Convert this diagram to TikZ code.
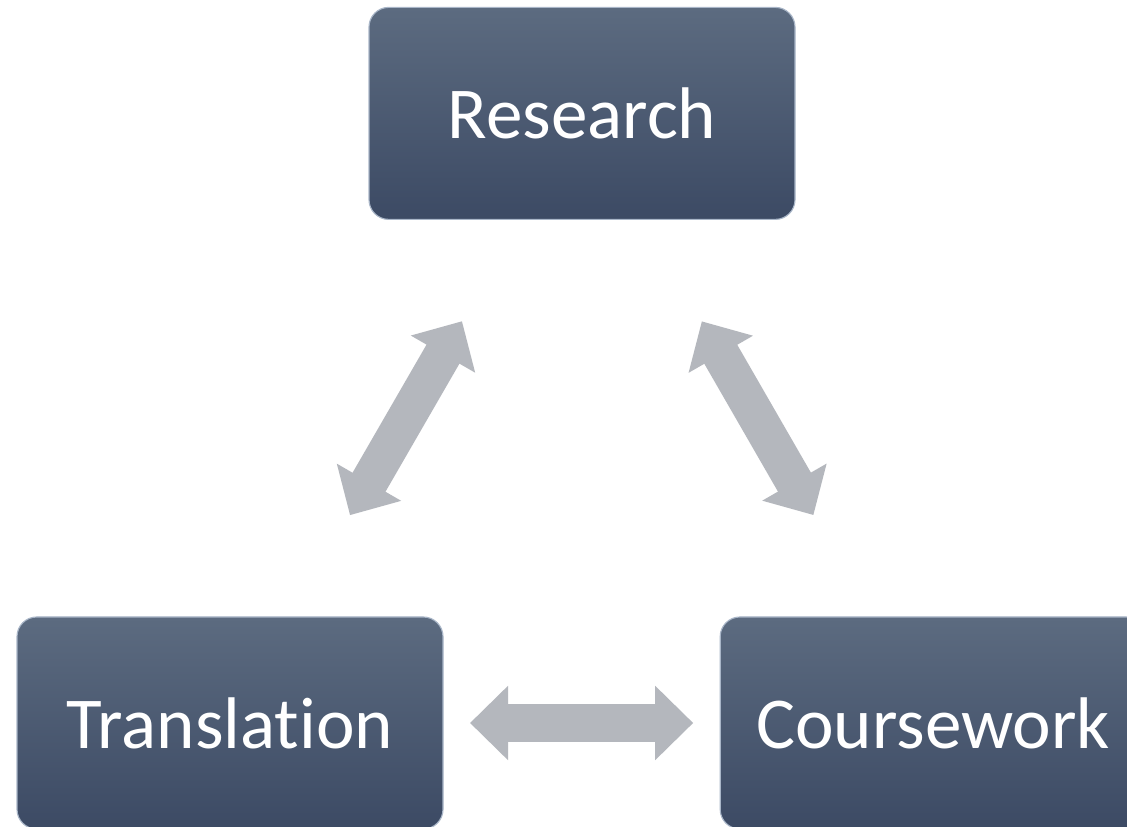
\documentclass[tikz,border=0pt]{standalone}
\usepackage{fontspec}
\setmainfont{Carlito}[Ligatures=CommonOff]
\usepackage{xcolor}
\usepackage{tikz}
\usetikzlibrary{arrows.meta}

\definecolor{boxtop}{HTML}{5C6B80}
\definecolor{boxbottom}{HTML}{3C4A64}
\definecolor{boxedge}{HTML}{A9B6C8}
\definecolor{arrowgray}{HTML}{B4B7BD}

\begin{document}
\begin{tikzpicture}[
        topic/.style={rounded corners=14pt, minimum width=10.65cm, minimum height=5.3cm, top color=boxtop, bottom color=boxbottom, draw=boxedge, line width=0.8pt, text=white, font=\fontsize{52}{60}\selectfont},
        link/.style={arrowgray, line width=0.95cm, {Triangle[width=1.8cm, length=0.95cm]}-{Triangle[width=1.8cm, length=0.95cm]}, shorten <=6cm, shorten >=6cm}
    ]
        \clip (0,0) rectangle (28.175,20.675);
        \fill[white] (0,0) rectangle (28.175,20.675);

        \node[topic] (research) at (14.55,17.84) {Research};
        \node[topic] (translation) at (5.75,2.6) {Translat\kern0pt ion};
        \node[topic] (coursework) at (23.33,2.6) {Coursework};

        \draw[link] (research.center) -- (translation.center);
        \draw[link] (research.center) -- (coursework.center);
        \draw[link] (translation.center) -- (coursework.center);
    \end{tikzpicture}
\end{document}
